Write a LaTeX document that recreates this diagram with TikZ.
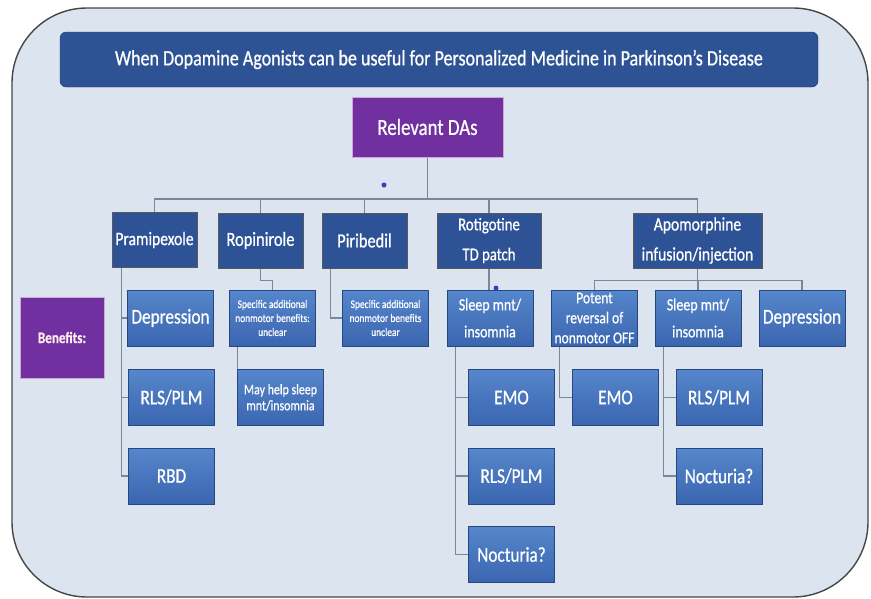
\documentclass[tikz,border=0pt]{standalone}
\usepackage{fontspec}
\setmainfont{Carlito}[FakeStretch=0.82, FakeBold=0.7]
\usetikzlibrary{backgrounds}

\definecolor{paneblue}{HTML}{DCE4EF}
\definecolor{barblue}{HTML}{2E5395}
\definecolor{headblue}{HTML}{2D5396}
\definecolor{subtop}{HTML}{5686CC}
\definecolor{subbot}{HTML}{3A66AF}
\definecolor{davio}{HTML}{7030A0}
\definecolor{linkgray}{HTML}{7A8799}
\definecolor{dotblue}{HTML}{3A3FB8}

\newcommand{\fs}[2]{\fontsize{#1}{#2}\selectfont}

\tikzset{
    headbox/.style={draw=black!65, fill=headblue, text=white, minimum width=85,
        minimum height=55, inner sep=1, align=center, font=\fs{20}{28}},
    subbox/.style={draw=headblue!85!black, top color=subtop, bottom color=subbot,
        text=white, minimum width=86, minimum height=56, inner sep=1, align=center,
        font=\fs{21}{24}},
    dabox/.style={fill=davio, draw=violet!35, text=white, align=center},
    link/.style={draw=linkgray, line width=1.2},
    clickdot/.style={circle, fill=dotblue, inner sep=0, minimum size=5}
}

\begin{document}
\begin{tikzpicture}[x=1pt,y=-1pt]
    \useasboundingbox (0,0) rectangle (871,598);
    \begin{scope}[on background layer]
        \draw[fill=paneblue, draw=gray!55!black, line width=1.4, rounded corners=75]
            (12,8) rectangle (868,597);
    \end{scope}

    % heading and root
    \node[fill=barblue, draw=barblue!70!black, rounded corners=6, text=white,
        minimum width=758, minimum height=55, font=\fs{22}{24}] (title) at (439,59.5)
        {When Dopamine Agonists can be useful for Personalized Medicine in Parkinson’s Disease};
    \node[dabox, minimum width=151, minimum height=60, font=\fs{23}{24}] (rel) at (427.5,127) {Relevant DAs};
    \node[dabox, minimum width=84, minimum height=81, text=pink!30, font=\bfseries\fs{16}{17}] (ben) at (62,337.5) {Benefits:};

    % the agonists
    \node[headbox, font=\fs{19}{28}] (pram) at (154.5,240) {Pramipexole};
    \node[headbox] (ropi) at (260.5,240.5) {Ropinirole};
    \node[headbox] (piri) at (364.5,240.5) {Piribedil};
    \node[headbox, minimum width=104, font=\fs{18}{30}] (roti) at (489,240.5) {Rotigotine\\TD patch};
    \node[headbox, minimum width=129, font=\fs{19}{30}] (apo) at (697.5,240.5) {Apomorphine\\infusion/injection};

    % first row of benefits
    \node[subbox] (pdep) at (170.5,318) {Depression};
    \node[subbox, font=\fs{11.5}{14}] (ropu) at (272.5,318) {Specific additional\\nonmotor benefits:\\unclear};
    \node[subbox, font=\fs{11.5}{14}] (piru) at (385.5,318) {Specific additional\\nonmotor benefits\\unclear};
    \node[subbox, font=\fs{17}{27}] (rsleep) at (490,318) {Sleep mnt/\\insomnia};
    \node[subbox, font=\fs{16.5}{20}] (apot) at (594.5,318) {Potent\\reversal of\\nonmotor OFF};
    \node[subbox, font=\fs{17}{27}] (asleep) at (698,318) {Sleep mnt/\\insomnia};
    \node[subbox] (adep) at (802,318) {Depression};

    % lower rows
    \node[subbox] (prls) at (171.5,397.5) {RLS/PLM};
    \node[subbox] (prbd) at (171.5,476) {RBD};
    \node[subbox, font=\fs{14.5}{16}] (rhelp) at (280.5,397.5) {May help sleep\\mnt/insomnia};
    \node[subbox] (remo) at (511.5,397.5) {EMO};
    \node[subbox] (rrls) at (511.5,476) {RLS/PLM};
    \node[subbox] (rnoc) at (511.5,554.5) {Nocturia?};
    \node[subbox] (aemo) at (615.5,397.5) {EMO};
    \node[subbox] (arls) at (719,397.5) {RLS/PLM};
    \node[subbox] (anoc) at (719,476) {Nocturia?};

    \node[clickdot] (dotA) at (384,185) {};
    \node[clickdot] (dotB) at (496,288) {};

    \begin{scope}[on background layer]
        \coordinate (bus) at (0,199);
        \foreach \d in {pram,ropi,piri,roti,apo}
            \draw[link] (rel.south) |- (bus -| \d.north) -- (\d.north);
        \foreach \b in {pdep,prls,prbd}
            \draw[link] ([xshift=10]pram.south west) |- (\b.west);
        \draw[link] (ropi.south) -- ++(0,12) -| (ropu.north);
        \draw[link] ([xshift=8.5]ropu.south west) |- (rhelp.west);
        \draw[link] ([xshift=9]piri.south west) |- (piru.west);
        \draw[link] (roti.south) -- (roti.south |- rsleep.north);
        \foreach \b in {remo,rrls,rnoc}
            \draw[link] ([xshift=9]rsleep.south west) |- (\b.west);
        \foreach \b in {apot,asleep,adep}
            \draw[link] (apo.south) -- ++(0,12) -| (\b.north);
        \draw[link] ([xshift=8.5]apot.south west) |- (aemo.west);
        \foreach \b in {arls,anoc}
            \draw[link] ([xshift=9]asleep.south west) |- (\b.west);
    \end{scope}
\end{tikzpicture}
\end{document}
